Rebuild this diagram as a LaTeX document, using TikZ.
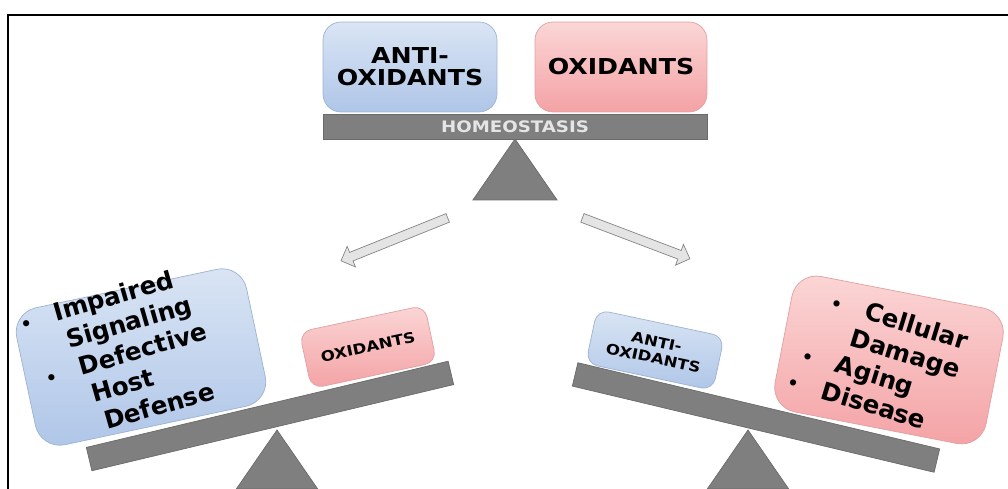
\documentclass[tikz,border=0pt]{standalone}
\usepackage{fontspec}
\newfontfamily\capsFace[FakeStretch=1.15]{DejaVu Sans}
\newfontfamily\listFace{DejaVu Sans}
\usepackage{tikz}
\usetikzlibrary{shapes.arrows}
\usetikzlibrary{positioning}

\definecolor{blueTop}{HTML}{DAE5F4}
\definecolor{blueBot}{HTML}{AFC6E8}
\definecolor{blueEdge}{HTML}{9DB2D2}
\definecolor{pinkTop}{HTML}{FBD6D6}
\definecolor{pinkBot}{HTML}{F4A2A5}
\definecolor{pinkEdge}{HTML}{E0A0A2}
\definecolor{beamGray}{HTML}{7F7F7F}
\definecolor{beamEdge}{HTML}{6A6A6A}
\definecolor{arrowFill}{HTML}{E4E4E4}
\definecolor{arrowEdge}{HTML}{858585}

\newcommand{\bigCaps}{\capsFace\bfseries\fontsize{12.5}{12.5}\selectfont}
\newcommand{\beamCaps}{\capsFace\bfseries\fontsize{9}{9}\selectfont}
\newcommand{\smallCaps}{\capsFace\bfseries\fontsize{8.2}{9.5}\selectfont}
\newcommand{\listText}{\listFace\bfseries\fontsize{14}{16.8}\selectfont}
\newcommand{\dotItem}{{\fontsize{10}{10}\selectfont\textbullet}}
\newcommand{\listRow}[2]{\hspace*{#1}\makebox[20pt][l]{#2}}

\begin{document}
\begin{tikzpicture}[x=0.02cm,y=-0.02cm,
    antibox/.style={rectangle,draw=blueEdge,top color=blueTop,bottom color=blueBot,inner sep=0pt},
    oxibox/.style={rectangle,draw=pinkEdge,top color=pinkTop,bottom color=pinkBot,inner sep=0pt},
    beam/.style={rectangle,fill=beamGray,draw=beamEdge,inner sep=0pt,
      minimum width=7.44cm,minimum height=0.48cm},
    hollow/.style={single arrow,draw=arrowEdge,fill=arrowFill,inner sep=0.085cm,
      single arrow head extend=0.13cm,minimum height=2.3cm},
    bullets/.style={font=\listText,align=left,inner sep=0pt,anchor=north west}]

        \pgfmathsetmacro{\tilt}{13.4}
        \useasboundingbox (0,0) rectangle (1008,489);

        % frame
        \draw[line width=1pt] (8,489) -- (8,15) -- (1008,15);

        % fulcrums
        \foreach \ax/\ay/\h in {515/139/61, 277/430/59, 748/430/59}
        {
          \filldraw[fill=beamGray,draw=beamEdge] (\ax,\ay) -- ++(-0.69*\h,\h) -- ++(1.38*\h,0) -- cycle;
        }

        % balance
        \node[beam,minimum width=7.68cm,minimum height=0.5cm,font=\beamCaps,
          text=white!90!black] (beamT) at (515,126.5) {HOMEOSTASIS};
        \node[antibox,minimum width=3.48cm,minimum height=1.8cm,rounded corners=0.36cm,
          font=\bigCaps,align=center] (antiT) at (410,67) {ANTI-\\OXIDANTS};
        \node[oxibox,minimum width=3.44cm,minimum height=1.8cm,rounded corners=0.36cm,
          font=\bigCaps] (oxiT) at (621,67) {OXIDANTS};

        \node[hollow,rotate=201.9] (toLeft) at (396.5,238.5) {};
        \node[hollow,rotate=-20.8] (toRight) at (634,237.5) {};

        % too few oxidants
        \node[beam,rotate=\tilt] (beamL) at (270,416) {};
        \node[antibox,rotate=12,minimum width=4.7cm,minimum height=2.8cm,
          rounded corners=0.5cm] (impair) at (141,357) {};
        \node[bullets,rotate=16] (impairText) at (17,313)
          {\listRow{0pt}{\dotItem}Impaired\\
           \listRow{2.7pt}{}Signaling\\
           \listRow{5.4pt}{\dotItem}Defective\\
           \listRow{8.1pt}{}Host\\
           \listRow{10.8pt}{}Defense};
        \node[oxibox,rotate=12,minimum width=2.56cm,minimum height=1.16cm,
          rounded corners=0.24cm,font=\smallCaps] (oxiL) at (368,347) {OXIDANTS};

        % too many oxidants
        \node[beam,rotate=-\tilt] (beamR) at (756,417.5) {};
        \node[antibox,rotate=-12,minimum width=2.6cm,minimum height=1.1cm,
          rounded corners=0.24cm,font=\smallCaps,align=center] (antiR) at (655,350)
          {ANTI-\\OXIDANTS};
        \node[oxibox,rotate=-11,minimum width=4.3cm,minimum height=2.76cm,
          rounded corners=0.5cm] (damage) at (889,360) {};
        \node[bullets,rotate=-17] (damageText) at (817,285)
          {\listRow{10.5pt}{\dotItem}Cellular\\
           \listRow{7pt}{}Damage\\
           \listRow{3.5pt}{\dotItem}Aging\\
           \listRow{0pt}{\dotItem}Disease};
      \end{tikzpicture}
\end{document}
